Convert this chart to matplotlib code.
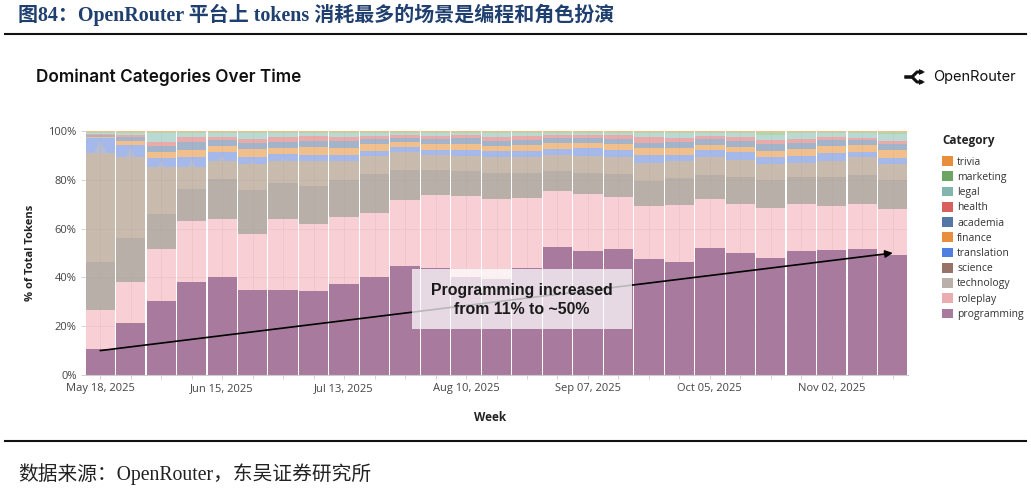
import matplotlib
matplotlib.use('Agg')
import matplotlib.pyplot as plt
from matplotlib.patches import Patch, Rectangle
import numpy as np

week_labels = ['May 18, 2025', 'Jun 15, 2025', 'Jul 13, 2025', 'Aug 10, 2025',
               'Sep 07, 2025', 'Oct 05, 2025', 'Nov 02, 2025']
categories = ['programming', 'roleplay', 'technology', 'science', 'translation', 'finance',
              'academia', 'health', 'legal', 'marketing', 'trivia']

# 每个类别的累计上沿（%），从图上读出来的
programming = [10.5, 21.3, 30.3, 38.0, 40.0, 34.7, 35.0, 34.5, 37.2, 40.0, 44.5, 43.7, 40.3, 39.3,
               43.7, 52.4, 51.0, 51.6, 47.6, 46.3, 52.0, 50.2, 47.8, 50.8, 51.4, 51.6, 49.0]
roleplay = [26.8, 38.2, 51.5, 63.3, 63.8, 57.8, 64.0, 61.9, 64.6, 66.3, 71.6, 73.8, 73.4, 72.1,
            72.7, 75.3, 74.2, 72.8, 69.4, 69.5, 72.2, 70.2, 68.4, 70.1, 69.4, 70.1, 67.9]
technology = [46.4, 56.0, 66.0, 76.2, 80.2, 76.0, 78.7, 77.5, 79.9, 82.4, 83.9, 84.0, 83.7, 82.9,
              82.6, 83.7, 82.9, 82.4, 79.5, 80.7, 82.1, 81.3, 79.9, 81.0, 81.0, 82.1, 80.0]
science = [90.8, 89.2, 85.1, 85.1, 87.8, 86.5, 87.7, 87.8, 87.6, 89.9, 91.4, 90.2, 89.8, 89.2,
           89.3, 90.0, 89.9, 89.2, 87.0, 87.6, 89.5, 88.2, 86.6, 86.9, 87.8, 89.2, 86.5]
translation = [97.3, 94.3, 88.8, 89.5, 91.4, 89.5, 90.6, 90.3, 90.3, 91.8, 93.3, 92.3, 92.2, 91.7,
               91.8, 92.8, 92.9, 92.2, 90.1, 90.3, 92.2, 91.2, 89.5, 89.9, 91.0, 91.4, 89.0]
finance = [97.7, 95.9, 91.4, 92.2, 94.0, 92.6, 93.2, 93.6, 93.2, 94.7, 95.5, 94.8, 94.8, 94.0,
           94.3, 94.9, 95.0, 94.5, 93.0, 93.0, 94.3, 93.6, 91.9, 92.6, 94.0, 94.3, 92.2]
academia = [98.2, 97.4, 94.0, 95.5, 96.2, 94.9, 95.6, 96.0, 96.0, 96.7, 97.3, 96.7, 97.0, 96.0,
            96.3, 97.2, 97.3, 96.6, 95.2, 95.5, 96.6, 95.8, 94.8, 95.2, 96.2, 96.3, 94.7]
health = [98.6, 98.5, 95.5, 97.5, 97.4, 96.6, 97.5, 98.0, 97.5, 98.0, 98.4, 98.1, 98.4, 97.7,
          98.0, 98.4, 98.4, 98.2, 97.4, 97.0, 98.0, 97.4, 96.3, 96.7, 97.5, 97.1, 95.9]
legal = [99.0, 99.1, 99.2, 99.0, 99.2, 99.0, 99.1, 99.2, 99.1, 99.2, 99.3, 99.2, 99.3, 99.2,
         99.2, 99.2, 99.3, 99.2, 99.2, 99.2, 99.2, 99.1, 98.4, 99.1, 99.2, 99.2, 98.8]
marketing = [99.5, 99.6, 99.6, 99.6, 99.6, 99.5, 99.6, 99.6, 99.6, 99.6, 99.6, 99.6, 99.6, 99.6,
             99.6, 99.6, 99.6, 99.6, 99.6, 99.6, 99.6, 99.6, 99.5, 99.6, 99.6, 99.6, 99.5]
trivia = [100.0] * 27
tops = [programming, roleplay, technology, science, translation, finance, academia, health,
        legal, marketing, trivia]
# 前几周 science 上面那些小三角的高度（%）
spike_heights = [5.2, 3.7, 2.7, 3.3, 2.3, 1.9, 1.8, 0, 1.0, 0, 0, 0, 0, 0, 0, 0, 0, 0, 1.0, 1.0, 1.0, 1.0, 1.0, 1.0, 1.0]

bar_colors = ['#a87a9d', '#f7cfd5', '#b9afa9', '#c9baae', '#a4b8ea', '#f1bf8c', '#a3b4ca',
              '#e8abaa', '#b9d9d2', '#b7d4a6', '#f1c88e']
legend_colors = ['#a87a9d', '#e9adb0', '#bab0aa', '#977269', '#4f7fe0', '#e98f3c', '#5577a5',
                 '#d85f5c', '#82b5ad', '#6aa661', '#e98f3c']

W, H = 1031, 491
plt.rcParams['font.family'] = ['Open Sans', 'DejaVu Sans']
fig = plt.figure(figsize=(W / 100, H / 100), dpi=100)
ax = fig.add_axes([85 / W, 1 - 375 / H, 823 / W, 244 / H])

weeks = np.arange(len(programming))
bottom = np.zeros(len(weeks))
for name, top, color in zip(categories, tops, bar_colors):
    top = np.array(top)
    ax.bar(weeks, top - bottom, bottom=bottom, width=0.96, color=color, zorder=2)
    bottom = top
for w, h in zip(weeks, spike_heights):
    if h > 0:
        ax.fill([w - 0.042 * h, w, w + 0.042 * h], [science[w], science[w] + h, science[w]],
                color='#b6bdd3', linewidth=0, zorder=2.5)

ax.set_xlim(-0.5, 26.5)
ax.set_ylim(0, 100)
ax.set_yticks(range(0, 101, 20))
ax.set_yticklabels([f'{v}%' for v in range(0, 101, 20)], fontsize=8, color='#444444')
ax.set_xticks(weeks)
ax.set_xticklabels([week_labels[i // 4] if i % 4 == 0 else '' for i in weeks], fontsize=8, color='#444444')
ax.tick_params(axis='both', length=3, width=0.6, color='#cccccc', pad=3)
ax.grid(True, color='#a08a8a', alpha=0.12, linewidth=0.6, zorder=3)
ax.set_axisbelow(False)
for side in ['top', 'right', 'left']:
    ax.spines[side].set_visible(False)
ax.spines['bottom'].set_color('#cccccc')
ax.set_xlabel('Week', fontsize=8.5, fontweight='bold', color='#222222', labelpad=12)
ax.xaxis.label.set_x((490 - 85) / 823)
ax.set_ylabel('% of Total Tokens', fontsize=8, fontweight='bold', color='#222222', labelpad=9)

# 箭头和说明框
ax.annotate('', xy=(26, 50), xytext=(0, 10), zorder=5,
            arrowprops=dict(arrowstyle='-|>', color='black', lw=1.2, mutation_scale=11, shrinkA=0, shrinkB=0))
ax.add_patch(Rectangle((10.23, 18.9), 7.22, 24.6, facecolor='white', alpha=0.72, edgecolor='none', zorder=6))
ax.text(13.84, 30.7, 'Programming increased\nfrom 11% to ~50%', ha='center', va='center', fontsize=11.4,
        fontweight='bold', family=['Liberation Sans', 'DejaVu Sans'], color='#1a1a1a', zorder=7, linespacing=1.4)

# 图例，顺序和堆叠相反
handles = [Patch(facecolor=c, label=n) for n, c in zip(categories[::-1], legend_colors[::-1])]
fig.text(942 / W, 1 - 140.5 / H, 'Category', fontsize=8.5, fontweight='bold', color='#222222', va='center')
fig.legend(handles=handles, loc='upper left', bbox_to_anchor=(938 / W, 1 - 152 / H),
           frameon=False, fontsize=7.5, handlelength=1.05, handleheight=1.05, handletextpad=0.38,
           labelspacing=0.37, borderaxespad=0, labelcolor='#333333')

# 标题和页眉页脚
fig.text(36 / W, 1 - 77 / H, 'Dominant Categories Over Time', fontsize=12.35, fontweight='semibold',
         family=['Inter', 'DejaVu Sans'], color='#111111', va='center')
fig.text(933.5 / W, 1 - 77 / H, 'OpenRouter', fontsize=10.5, family=['Inter', 'DejaVu Sans'], color='#111111', va='center')
# OpenRouter 的图标
logo_x = [906, 912, 917, 921]
fig.add_artist(plt.Line2D([x / W for x in logo_x], [1 - y / H for y in [77, 77, 72, 72]], color='#111111', lw=2.2))
fig.add_artist(plt.Line2D([x / W for x in logo_x], [1 - y / H for y in [77, 77, 82, 82]], color='#111111', lw=2.2))
fig.add_artist(plt.Line2D([922 / W], [1 - 72 / H], marker='>', ms=5, color='#111111', mew=0))
fig.add_artist(plt.Line2D([922 / W], [1 - 82 / H], marker='>', ms=5, color='#111111', mew=0))

serif = ['Liberation Serif', 'Noto Sans CJK SC']
fig.text(18 / W, 1 - 15 / H, '图84：OpenRouter 平台上 tokens 消耗最多的场景是编程和角色扮演', fontsize=14.4,
         fontweight='bold', family=serif, color='#1f3f6e', va='center')
fig.text(18 / W, 1 - 474 / H, '数据来源：OpenRouter，东吴证券研究所', fontsize=14.2, family=serif, color='#222222', va='center')
fig.add_artist(plt.Line2D([5 / W, 1026 / W], [1 - 34 / H, 1 - 34 / H], color='#111111', lw=1.5))
fig.add_artist(plt.Line2D([5 / W, 1026 / W], [1 - 441 / H, 1 - 441 / H], color='#111111', lw=1.5))

plt.savefig('out.png', dpi=100)
